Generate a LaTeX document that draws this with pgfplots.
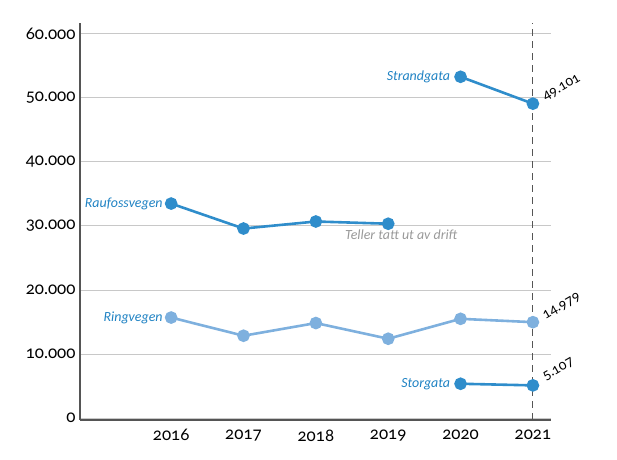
\documentclass[border=0pt]{standalone}
\usepackage{fontspec}
\setmainfont{Carlito}[RawFeature={+onum}]
\newfontfamily\numfont{Lato}[RawFeature={+onum}]
\usepackage{pgfplots}
\pgfplotsset{compat=1.18}
\definecolor{dark}{HTML}{2F8DCB}
\definecolor{light}{HTML}{7EB0DE}
\definecolor{lab}{HTML}{1F82C3}
\definecolor{spine}{HTML}{555555}
\definecolor{gridc}{HTML}{C8C8C8}
\begin{document}
\begin{tikzpicture}
\useasboundingbox (-80bp,-40bp) rectangle (537bp,420bp);
\begin{axis}[
  at={(0,0)}, anchor=south west,
  scale only axis, width=471bp, height=397bp,
  xmin=2014.74, xmax=2021.25, ymin=-300, ymax=61700,
  axis x line=bottom, axis y line=left,
  axis line style={-, draw=spine, line width=1.8bp},
  xtick={2016,2017,2018,2019,2020,2021},
  ytick={0,10000,20000,30000,40000,50000,60000},
  scaled y ticks=false,
  xticklabel={\numfont\pgfmathprintnumber[assume math mode=true, set thousands separator={}]{\tick}},
  yticklabel={\numfont\pgfmathprintnumber[assume math mode=true, set thousands separator={.}]{\tick}},
  xticklabel style={yshift=-6bp},
  yticklabel style={xshift=-1bp},
  major tick length=0pt,
  ymajorgrids, grid style={gridc, line width=1bp},
  tick label style={font=\numfont\fontsize{17}{20}\selectfont, text=black},
  clip=false,
]
  \draw[spine, line width=1bp, dash pattern=on 7bp off 5bp]
    (axis cs:2021,-300) -- (axis cs:2021,61700);

  % Ringvegen
  \addplot[light, line width=2.6bp, mark=*, mark size=5bp] coordinates {
    (2016,15700) (2017,12860) (2018,14840) (2019,12390) (2020,15500) (2021,14979)
  };
  % Raufossvegen
  \addplot[dark, line width=2.6bp, mark=*, mark size=5bp] coordinates {
    (2016,33500) (2017,29600) (2018,30700) (2019,30350)
  };
  % Strandgata
  \addplot[dark, line width=2.6bp, mark=*, mark size=5bp] coordinates {
    (2020,53300) (2021,49101)
  };
  % Storgata
  \addplot[dark, line width=2.6bp, mark=*, mark size=5bp] coordinates {
    (2020,5360) (2021,5107)
  };

  \begin{scope}[font=\fontsize{14}{16}\selectfont\itshape]
    \node[lab, anchor=east, xshift=-5bp] at (axis cs:2016,33500) {Raufossvegen};
    \node[lab, anchor=east, xshift=-5bp] at (axis cs:2016,15700) {Ringvegen};
    \node[lab, anchor=east, xshift=-7bp] at (axis cs:2020,53300) {Strandgata};
    \node[lab, anchor=east, xshift=-7bp] at (axis cs:2020,5360) {Storgata};
    \node[gray!80, anchor=north, xshift=13bp, yshift=-3bp] at (axis cs:2019,30350) {Teller tatt ut av drift};
  \end{scope}
  \begin{scope}[font=\numfont\fontsize{14}{16}\selectfont]
    \node[anchor=south west, rotate=30, inner sep=1bp] at ([xshift=13bp, yshift=0bp]axis cs:2021,49101) {49.101};
    \node[anchor=south west, rotate=30, inner sep=1bp] at ([xshift=13bp, yshift=0bp]axis cs:2021,14979) {14.979};
    \node[anchor=south west, rotate=30, inner sep=1bp] at ([xshift=13bp, yshift=2bp]axis cs:2021,5107) {5.107};
  \end{scope}
\end{axis}
\end{tikzpicture}
\end{document}
